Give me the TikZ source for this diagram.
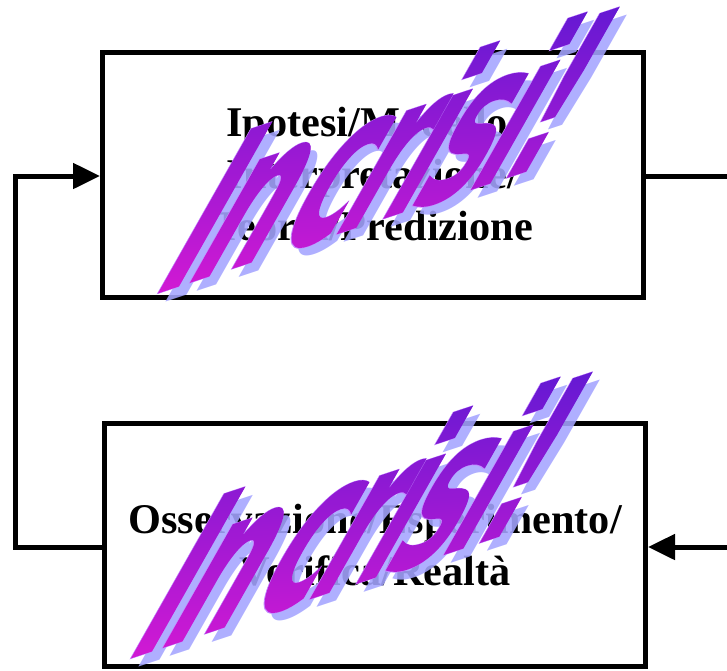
\documentclass[tikz,border=0pt]{standalone}
\usepackage{fontspec}
\setmainfont{Liberation Serif}
\newfontfamily\artfont[WordSpace=0.3,LetterSpace=-8]{DejaVu Sans}
\newfontfamily\artoutline[WordSpace=0.3,LetterSpace=-8,BoldFeatures={FakeBold=0.5}]{DejaVu Sans}
\usetikzlibrary{arrows.meta}
\newcommand{\arttext}{\fontsize{100}{100}\selectfont\bfseries In crisi!}
\definecolor{artshadow}{HTML}{A4A4FF}
\definecolor{artline}{HTML}{C488FF}
\definecolor{artlow}{HTML}{DC10D0}
\definecolor{arthigh}{HTML}{4A10D0}
\tikzset{
  artmatrix/.style={cm={1.125,0.372,1.28,2.26,(0,0)}},
  artnode/.style={transform shape,anchor=base west,inner sep=0pt,outer sep=0pt},
  boxnode/.style={draw=black,line width=5pt,align=center,inner sep=0pt,font=\fontsize{42.3}{52}\selectfont\bfseries},
  link/.style={draw=black,line width=5pt},
  tip/.style={-{Triangle[length=27pt,width=25pt]}}
}
\newcommand{\wordart}[3]{%
  \begin{scope}[shift={(#1+8,#2+8)},artmatrix]
    \node[artnode,text=artshadow,opacity=.88] (#3shadow) at (0,0) {\artfont\arttext};
  \end{scope}
  \begin{scope}[shift={(#1,#2)},artmatrix]
    \node[artnode,text=artline] (#3line) at (0,0) {\artoutline\arttext};
  \end{scope}
  \begin{scope}[shift={(#1,#2)},artmatrix]
    \node[artnode] (#3fill) at (0,0) {\rlap{\special{pdf:code 7 Tr}\artfont\arttext\special{pdf:code 0 Tr}}\tikz[overlay,baseline=0pt]{\path[shade,shading=axis,bottom color=artlow,top color=arthigh,shading angle=-8,opacity=.92] (-20pt,-15pt) rectangle (460pt,85pt);}};
  \end{scope}
}
\begin{document}
\begin{tikzpicture}[x=1pt,y=-1pt]
  \useasboundingbox (0,0) rectangle (727,670);
  \node[boxnode,minimum width=541pt,minimum height=245pt] (hyp) at (373,174.5)
    {Ipotesi/Modello/\\Interpretazione/\\Teoria/Predizione};
  \node[boxnode,minimum width=541pt,minimum height=243pt] (obs) at (375,545)
    {Osservazione/Esperimento/\\Verifica/Realtà};
  \coordinate (rightout) at (727,176);
  \coordinate (rightin) at (727,547);
  \coordinate (leftturn) at (15,547);
  \coordinate (hypin) at ([yshift=-1.5pt]hyp.west);
  \coordinate (obsout) at ([yshift=-2pt]obs.west);
  \coordinate (obsin) at ([yshift=-2pt]obs.east);
  \coordinate (hypout) at ([yshift=-1.5pt]hyp.east);
  \draw[link] (hypout) -- (rightout);
  \draw[link,tip] (rightin) -- (obsin);
  \draw[link,tip] (obsout) -- (leftturn) |- (hypin);
  \wordart{147}{297}{first}
  \wordart{120}{662}{second}
\end{tikzpicture}
\end{document}
